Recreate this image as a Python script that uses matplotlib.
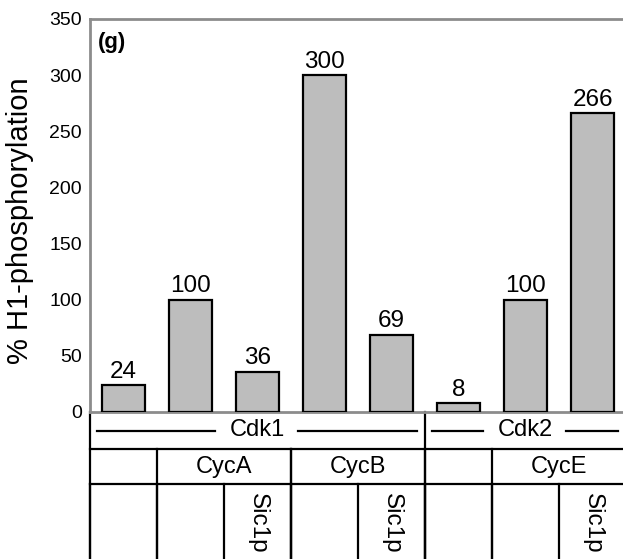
import matplotlib.pyplot as plt

plt.rcParams["font.family"] = ["Liberation Sans", "DejaVu Sans"]

# bar values (same order as the table columns)
values = [24, 100, 36, 300, 69, 8, 100, 266]
kinase_groups = [("Cdk1", 0, 4), ("Cdk2", 5, 7)]
cyclin_groups = [("CycA", 1, 2), ("CycB", 3, 4), ("CycE", 6, 7)]
inhibitor = ["", "", "Sic1p", "", "Sic1p", "", "", "Sic1p"]
yticks = [0, 50, 100, 150, 200, 250, 300, 350]

fig = plt.figure(figsize=(6.23, 5.59), dpi=100)
ax = fig.add_axes([90 / 623, 147 / 559, 536 / 623, 393 / 559])

x = list(range(len(values)))
ax.bar(x, values, width=0.64, color="#bdbdbd", edgecolor="black", linewidth=1.6, zorder=3)
for xi, v in zip(x, values):
    ax.text(xi, v + 2, str(v), ha="center", va="bottom", fontsize=17.5)

ax.set_xlim(-0.5, 7.5)
ax.set_ylim(0, 350)
ax.set_yticks(yticks)
ax.set_yticklabels([str(t) for t in yticks], family=["Liberation Sans Narrow", "Liberation Sans"], fontsize=14)
ax.tick_params(axis="y", length=0, pad=6)
ax.set_xticks([])
for side in ["left", "top", "bottom"]:
    ax.spines[side].set_color("#8c8c8c")
    ax.spines[side].set_linewidth(2)
ax.spines["right"].set_visible(False)
ax.set_ylabel("% H1-phosphorylation", fontsize=21)
ax.yaxis.set_label_coords(-0.105, 0.487)
ax.text(0.014, 0.94, "(g)", transform=ax.transAxes, fontsize=16, fontweight="bold", va="center")

# ======================================================
# table under the bars
# ======================================================
tr = ax.get_xaxis_transform()
r1, r2, r3 = -37 / 393, -72 / 393, -147 / 393
kw = dict(color="black", lw=1.6, transform=tr, clip_on=False)

ax.plot([-0.5, -0.5], [0, r3], **kw)
ax.plot([-0.5, 7.6], [r1, r1], **kw)
ax.plot([-0.5, 7.6], [r2, r2], **kw)

# row 1: kinase
for name, a, b in kinase_groups:
    mid = (a + b) / 2
    ym = r1 / 2
    ax.text(mid, ym, name, ha="center", va="center", fontsize=17, transform=tr)
    ax.plot([a - 0.4, mid - 0.64], [ym, ym], **kw)
    ax.plot([mid + 0.6, b + 0.38], [ym, ym], **kw)
    if a > 0:
        ax.plot([a - 0.5, a - 0.5], [0, r3], **kw)

# row 2: cyclin
for name, a, b in cyclin_groups:
    ax.text((a + b) / 2, (r1 + r2) / 2, name, ha="center", va="center", fontsize=17, transform=tr)
    ax.plot([a - 0.5, a - 0.5], [r1, r3], **kw)
    ax.plot([b + 0.5, b + 0.5], [r1, r3], **kw)

# row 3: inhibitor
for i, lab in enumerate(inhibitor):
    ax.plot([i - 0.5, i - 0.5], [r2, r3], **kw)
    if lab:
        ax.text(i, r2 - 0.022, lab, ha="center", va="top", rotation=270, fontsize=17.5, transform=tr)

fig.savefig("out.png", dpi=100)
